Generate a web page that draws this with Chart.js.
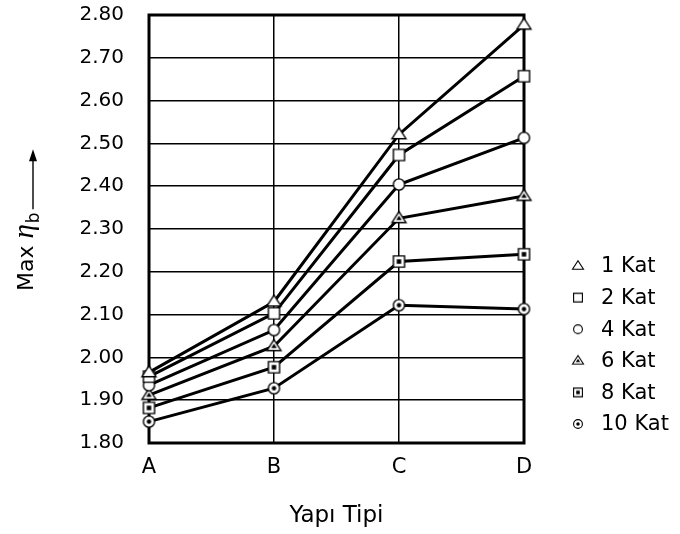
<!DOCTYPE html>
<html>
<head>
<meta charset="utf-8">
<script src="https://cdn.jsdelivr.net/npm/chart.js@4"></script>
<style>
  html, body { margin: 0; background: #fff; }
  #wrap { width: 680px; height: 534px; }
</style>
</head>
<body>
<div id="wrap"><canvas id="chart" width="680" height="534"></canvas></div>
<script>
// values (Max eta_b per building type)
const types = ["A", "B", "C", "D"];
const seriesNames = ["1 Kat", "2 Kat", "4 Kat", "6 Kat", "8 Kat", "10 Kat"];
const kat1 = [1.965, 2.130, 2.521, 2.777];
const kat2 = [1.955, 2.103, 2.473, 2.657];
const kat4 = [1.935, 2.064, 2.404, 2.513];
const kat6 = [1.912, 2.026, 2.325, 2.377];
const kat8 = [1.882, 1.977, 2.224, 2.241];
const kat10 = [1.850, 1.928, 2.122, 2.113];
const markerKinds = ["tri", "sq", "circ", "triDot", "sqDot", "circDot"];

const FONT = "'DejaVu Sans', Verdana, sans-serif";

function marker(kind, s, lw) {
  const c = document.createElement("canvas");
  c.width = c.height = Math.ceil(s + lw * 2 + 2);
  const g = c.getContext("2d");
  const m = c.width / 2, r = s / 2;
  g.lineWidth = lw;
  g.strokeStyle = "#000";
  g.fillStyle = "#fff";
  const shape = (k, rr) => {
    g.beginPath();
    if (k === "tri") {
      g.moveTo(m, m - rr * 0.95);
      g.lineTo(m + rr, m + rr * 0.6);
      g.lineTo(m - rr, m + rr * 0.6);
      g.closePath();
    } else if (k === "sq") {
      g.rect(m - rr * 0.8, m - rr * 0.8, rr * 1.6, rr * 1.6);
    } else {
      g.arc(m, m, rr * 0.8, 0, Math.PI * 2);
    }
  };
  const base = kind.replace("Dot", "");
  shape(base, r);
  g.fill();
  g.stroke();
  if (kind.endsWith("Dot")) {
    g.fillStyle = "#000";
    shape(base, r * 0.4);
    g.fill();
  }
  return c;
}

const allValues = [kat1, kat2, kat4, kat6, kat8, kat10];
const datasets = allValues.map((vals, i) => ({
  label: seriesNames[i],
  data: vals,
  borderColor: "#000",
  borderWidth: 3,
  pointStyle: marker(markerKinds[i], 14, 1.4),
  legendImg: marker(markerKinds[i], 11, 1.1),
  pointRadius: 7,
  tension: 0,
  clip: false,
}));

const frameAndLabels = {
  id: "frameAndLabels",
  beforeDatasetsDraw(chart) {
    const { ctx, chartArea: a } = chart;
    ctx.save();
    ctx.lineWidth = 3;
    ctx.strokeStyle = "#000";
    ctx.strokeRect(a.left, a.top, a.right - a.left, a.bottom - a.top);
    ctx.restore();
  },
  afterDraw(chart) {
    const { ctx } = chart;
    // legend
    ctx.save();
    ctx.font = "21px " + FONT;
    ctx.fillStyle = "#000";
    ctx.textBaseline = "middle";
    chart.data.datasets.forEach((ds, i) => {
      const y = 266 + i * 31.6;
      const img = ds.legendImg;
      ctx.drawImage(img, 578 - img.width / 2, y - img.height / 2);
      ctx.fillText(ds.label, 601, y + 1);
    });
    ctx.restore();

    // y axis title: Max eta_b with arrow
    ctx.save();
    ctx.translate(33, 291);
    ctx.rotate(-Math.PI / 2);
    ctx.fillStyle = "#000";
    ctx.textBaseline = "alphabetic";
    ctx.font = "22px " + FONT;
    let x = 0;
    ctx.fillText("Max ", x, 0);
    x += ctx.measureText("Max ").width;
    ctx.font = "italic 29px 'Liberation Serif', serif";
    ctx.fillText("η", x, 0);
    x += ctx.measureText("η").width + 1;
    ctx.font = "17px " + FONT;
    ctx.fillText("b", x, 6);
    x += ctx.measureText("b").width + 3;
    ctx.strokeStyle = "#000";
    ctx.lineWidth = 1.4;
    ctx.beginPath();
    ctx.moveTo(x, 0);
    ctx.lineTo(x + 51, 0);
    ctx.stroke();
    ctx.beginPath();
    ctx.moveTo(x + 60, 0);
    ctx.lineTo(x + 48, -4);
    ctx.lineTo(x + 48, 4);
    ctx.closePath();
    ctx.fill();
    ctx.restore();
  },
};

new Chart(document.getElementById("chart"), {
  type: "line",
  data: { labels: types, datasets },
  options: {
    responsive: false,
    animation: false,
    layout: { autoPadding: false, padding: { top: 15, right: 156, left: 0, bottom: 0 } },
    plugins: { legend: { display: false }, tooltip: { enabled: false } },
    scales: {
      x: {
        type: "category",
        offset: false,
        afterFit: (s) => {
          s.height = 534 - 443;
          s.paddingLeft = s.paddingRight = 0;
        },
        grid: { color: "#000", lineWidth: 1.5, drawTicks: false },
        border: { display: false },
        ticks: { color: "#000", font: { family: FONT, size: 21 }, padding: 12 },
        title: {
          display: true, text: "Yapı Tipi", color: "#000",
          font: { family: FONT, size: 23 }, padding: { top: 8, bottom: 4 },
        },
      },
      y: {
        min: 1.8,
        max: 2.8,
        afterFit: (s) => {
          s.width = 149;
          s.paddingTop = s.paddingBottom = 0;
        },
        grid: { color: "#000", lineWidth: 1.5, drawTicks: false },
        border: { display: false },
        ticks: {
          stepSize: 0.1, color: "#000", padding: 25,
          font: { family: FONT, size: 20 },
          callback: (v) => Number(v).toFixed(2),
        },
      },
    },
  },
  plugins: [frameAndLabels],
});
</script>
</body>
</html>
